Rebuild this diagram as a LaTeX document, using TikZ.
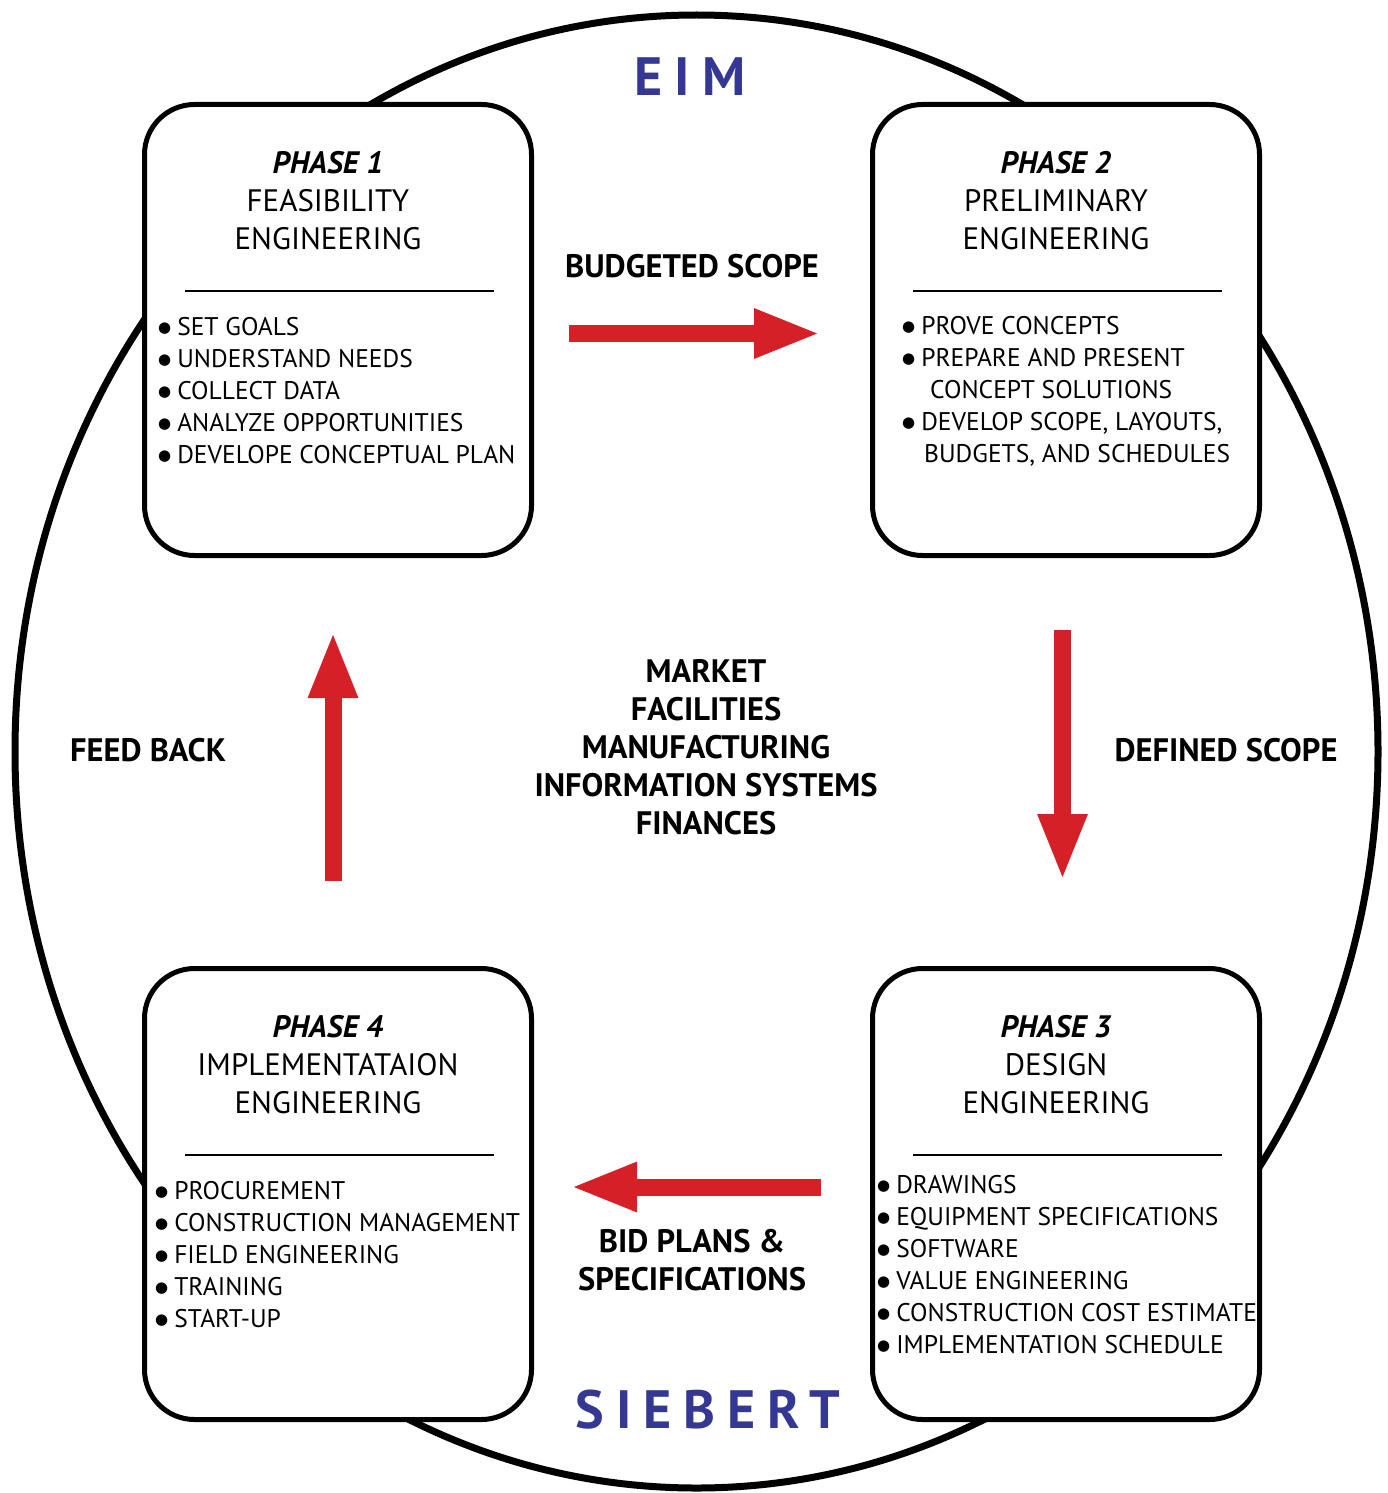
\documentclass[tikz,border=0pt]{standalone}
\usepackage{fontspec}
\setmainfont{PT Sans}
\newfontfamily\dotfont{DejaVu Sans}
\usetikzlibrary{arrows.meta}
\definecolor{arrowred}{RGB}{214,32,39}
\definecolor{logoblue}{RGB}{52,56,147}
\newcommand\bul{\raisebox{2.5pt}{\dotfont\fontsize{15}{15}\selectfont ●}\hspace{6pt}}
\begin{document}
\begin{tikzpicture}[x=1pt, y=-1pt,
      phase/.style={draw, fill=white, rounded corners=50pt, line width=5pt, minimum width=387pt, minimum height=451pt},
      head/.style={align=center, inner sep=0pt, anchor=north, font=\fontsize{31}{38}\selectfont},
      items/.style={align=left, inner sep=0pt, anchor=north west, font=\fontsize{25.5}{32}\selectfont},
      label/.style={align=center, inner sep=0pt, font=\bfseries\fontsize{32.5}{38}\selectfont},
      logo/.style={inner sep=0pt, text=logoblue, font=\bfseries\fontsize{54}{60}\selectfont},
      rule/.style={draw, line width=2.5pt},
      bigarrow/.style={draw, arrowred, line width=17pt, -{Triangle[length=67pt, width=45pt]}}
      ]
    \useasboundingbox (0,0) rectangle (1387,1493);

    \draw [line width=7pt] (696.5,751.5) ellipse [x radius=681.5, y radius=736.5];

    \node [logo] (eim) at (690,77) {\addfontfeature{LetterSpace=22}EIM};
    \node [logo] (siebert) at (708,1410) {\addfontfeature{LetterSpace=22}SIEBERT};

    % phase boxes
    \node [phase] (p1) at (338,330) {};
    \node [phase] (p2) at (1066,330) {};
    \node [phase] (p3) at (1066,1194) {};
    \node [phase] (p4) at (338,1194) {};

    \node [head] (h1) at (328,151) {\textbf{\textit{PHASE 1}}\\FEASIBILITY\\ENGINEERING};
    \node [head] (h2) at (1056,151) {\textbf{\textit{PHASE 2}}\\PRELIMINARY\\ENGINEERING};
    \node [head] (h3) at (1056,1015) {\textbf{\textit{PHASE 3}}\\DESIGN\\ENGINEERING};
    \node [head] (h4) at (328,1015) {\textbf{\textit{PHASE 4}}\\IMPLEMENTATAION\\ENGINEERING};

    \draw [rule] (185,291) -- (494,291);
    \draw [rule] (913,291) -- (1222,291);
    \draw [rule] (913,1155) -- (1222,1155);
    \draw [rule] (185,1155) -- (494,1155);

    \node [items] (l1) at (158,317) {\bul SET GOALS\\\bul UNDERSTAND NEEDS\\\bul COLLECT DATA\\\bul ANALYZE OPPORTUNITIES\\\bul DEVELOPE CONCEPTUAL PLAN};
    \node [items] (l2) at (902,316) {\bul PROVE CONCEPTS\\\bul PREPARE AND PRESENT\\\hspace{28pt}CONCEPT SOLUTIONS\\\bul DEVELOP SCOPE, LAYOUTS,\\\hspace{22pt}BUDGETS, AND SCHEDULES};
    \node [items] (l3) at (877,1175) {\bul DRAWINGS\\\bul EQUIPMENT SPECIFICATIONS\\\bul SOFTWARE\\\bul VALUE ENGINEERING\\\bul CONSTRUCTION COST ESTIMATE\\\bul IMPLEMENTATION SCHEDULE};
    \node [items] (l4) at (155,1181) {\bul PROCUREMENT\\\bul CONSTRUCTION MANAGEMENT\\\bul FIELD ENGINEERING\\\bul TRAINING\\\bul START-UP};

    % labels
    \node [label] (budget) at (692,266) {BUDGETED SCOPE};
    \node [label] (defined) at (1226,750) {DEFINED SCOPE};
    \node [label] (feed) at (148,750) {FEED BACK};
    \node [label] (bid) at (692,1260) {BID PLANS \&\\SPECIFICATIONS};
    \node [label] (core) at (706,747) {MARKET\\FACILITIES\\MANUFACTURING\\INFORMATION SYSTEMS\\FINANCES};

    % arrows
    \coordinate (a1s) at (569,333.5);
    \coordinate (a1e) at (821,333.5);
    \coordinate (a2s) at (1062.5,630);
    \coordinate (a2e) at (1062.5,881);
    \coordinate (a3s) at (821,1187);
    \coordinate (a3e) at (570,1187);
    \coordinate (a4s) at (333,881);
    \coordinate (a4e) at (333,631);
    \path [bigarrow] (a1s) -- (a1e);
    \path [bigarrow] (a2s) -- (a2e);
    \path [bigarrow] (a3s) -- (a3e);
    \path [bigarrow] (a4s) -- (a4e);
\end{tikzpicture}
\end{document}
